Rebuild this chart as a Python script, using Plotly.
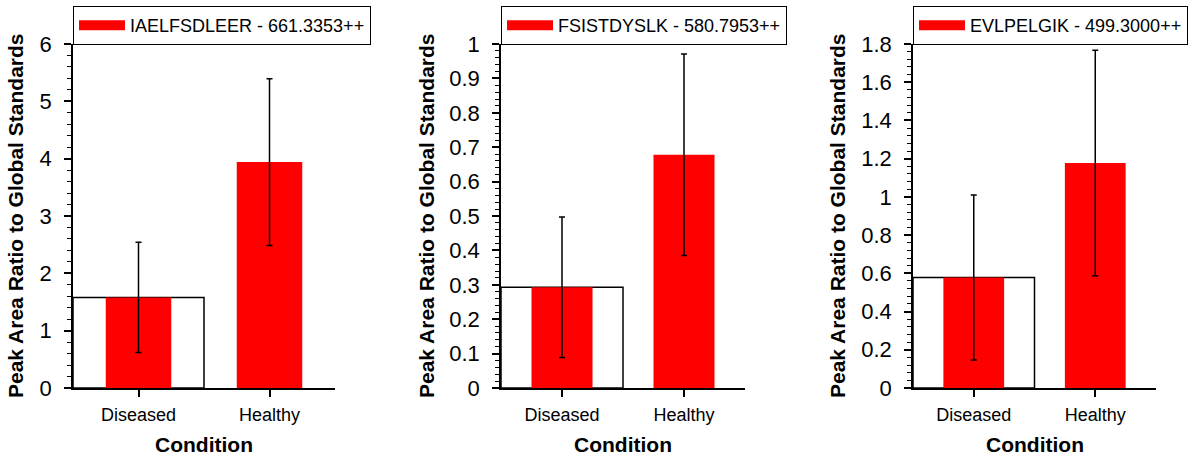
import plotly.graph_objects as go

conditions = ["Diseased", "Healthy"]
peptides = ["IAELFSDLEER - 661.3353++", "FSISTDYSLK - 580.7953++", "EVLPELGIK - 499.3000++"]
diseased_mean = [1.58, 0.293, 0.578]
diseased_sd = [0.96, 0.204, 0.432]
healthy_mean = [3.94, 0.678, 1.177]
healthy_sd = [1.455, 0.293, 0.59]
y_max = [6, 1, 1.8]
y_major = [1, 0.1, 0.2]
y_minor = [0.2, 0.02, 0.04]

W, H = 1193, 458
x_px = [(73, 335), (501, 745), (913, 1156)]
legend_w = [246, 224, 220]
y_top, y_bot = 44, 388
ytitle_px = [15, 426, 837]
FONT = "Liberation Sans, Arial, sans-serif"

fig = go.Figure()
layout = dict(
    width=W, height=H, margin=dict(l=0, r=0, t=0, b=0, autoexpand=False),
    plot_bgcolor="white", paper_bgcolor="white",
    font=dict(family=FONT, size=18, color="black"),
    barmode="overlay", showlegend=True, annotations=[],
)
ydom = [1 - y_bot / H, 1 - y_top / H]

for i in range(3):
    n = i + 1
    sfx = "" if n == 1 else str(n)
    xa, ya = "x" + sfx, "y" + sfx
    leg = "legend" + sfx

    # wide outlined box behind the diseased bar
    fig.add_trace(go.Bar(
        x=[conditions[0]], y=[diseased_mean[i]], width=1.0,
        marker=dict(color="white", line=dict(color="black", width=1.5)),
        xaxis=xa, yaxis=ya, showlegend=False, hoverinfo="skip"))
    fig.add_trace(go.Bar(
        x=conditions, y=[diseased_mean[i], healthy_mean[i]], width=0.5,
        marker=dict(color="#ff0000", line=dict(width=0)),
        error_y=dict(type="data", array=[diseased_sd[i], healthy_sd[i]],
                     color="black", thickness=1.5, width=3),
        xaxis=xa, yaxis=ya, showlegend=False))
    fig.add_trace(go.Scatter(
        x=[None], y=[None], mode="lines", line=dict(color="#ff0000", width=10),
        name=peptides[i], legend=leg, xaxis=xa, yaxis=ya))

    x0, x1 = x_px[i]
    xdom = [x0 / W, x1 / W]
    layout["xaxis" + sfx] = dict(
        domain=xdom, anchor=ya, type="category", range=[-0.5, 1.5],
        showline=True, linecolor="black", linewidth=1.5,
        ticks="outside", ticklen=7, tickwidth=1.5, tickcolor="black",
        showgrid=False, zeroline=False, ticklabelstandoff=3,
        tickfont=dict(family=FONT, size=18, color="black"))
    layout["yaxis" + sfx] = dict(
        domain=ydom, anchor=xa, range=[0, y_max[i]], dtick=y_major[i], tick0=0,
        showline=True, linecolor="black", linewidth=1.5,
        ticks="outside", ticklen=7, tickwidth=1.5, tickcolor="black",
        minor=dict(dtick=y_minor[i], ticks="outside", ticklen=4, tickwidth=1, tickcolor="black", showgrid=False),
        showgrid=False, zeroline=False, ticklabelstandoff=8,
        tickfont=dict(family=FONT, size=22, color="black"))
    # overlay axes give the inner half of the crossing ticks
    layout["xaxis" + str(n + 3)] = dict(
        overlaying=xa, anchor=ya, side="bottom", range=[-0.5, 1.5],
        tickvals=[0, 1], ticks="inside", ticklen=6, tickwidth=1.5, tickcolor="black",
        showticklabels=False, showline=False, showgrid=False, zeroline=False)
    layout["yaxis" + str(n + 3)] = dict(
        overlaying=ya, anchor=xa, side="left", range=[0, y_max[i]], dtick=y_major[i], tick0=0,
        ticks="inside", ticklen=7, tickwidth=1.5, tickcolor="black",
        minor=dict(dtick=y_minor[i], ticks="inside", ticklen=4, tickwidth=1, tickcolor="black", showgrid=False),
        showticklabels=False, showline=False, showgrid=False, zeroline=False)

    layout[leg] = dict(
        x=x0 / W, y=1 - 6 / H, xanchor="left", yanchor="top",
        bordercolor="black", borderwidth=1, bgcolor="white",
        font=dict(size=18), itemwidth=46,
        entrywidth=legend_w[i], entrywidthmode="pixels")

    layout["annotations"].append(dict(
        text="<b>Peak Area Ratio to Global Standards</b>", textangle=-90,
        x=ytitle_px[i] / W, y=1 - 216 / H, xref="paper", yref="paper",
        xanchor="center", yanchor="middle", showarrow=False, font=dict(size=21)))
    layout["annotations"].append(dict(
        text="<b>Condition</b>", x=(x0 + x1) / 2 / W, y=1 - 444 / H,
        xref="paper", yref="paper", xanchor="center", yanchor="middle",
        showarrow=False, font=dict(size=21)))

fig.update_layout(**layout)
fig.write_html("out.html", config={"displayModeBar": False},
               post_script="document.body.style.margin='0';")
